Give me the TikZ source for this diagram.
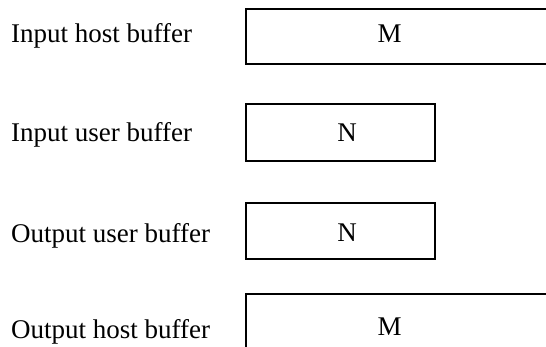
\documentclass[tikz,border=0pt]{standalone}
\usepackage{fontspec}
\setmainfont{Liberation Serif}
\begin{document}
\begin{tikzpicture}[x=1pt,y=-1pt,
  buf/.style={draw=black, line width=2pt},
  lbl/.style={font=\fontsize{27}{32}\selectfont, anchor=base west, inner sep=0pt},
  val/.style={font=\fontsize{27}{32}\selectfont, anchor=base, inner sep=0pt}]
\useasboundingbox (0,0) rectangle (546,347);
\clip (0,0) rectangle (546,347);
% boxes
\draw[buf] (246,9) rectangle (560,64);
\draw[buf] (246,104) rectangle (435,161);
\draw[buf] (246,203) rectangle (435,259);
\draw[buf] (246,294) rectangle (560,370);
% labels
\node[lbl] (l1) at (11,43) {Input host buffer};
\node[lbl] (l2) at (11,142) {Input user buffer};
\node[lbl] (l3) at (11,243) {Output user buffer};
\node[lbl] (l4) at (11,338) {Output host buffer};
% values
\node[val] (v1) at (389.5,43) {M};
\node[val] (v2) at (347,142) {N};
\node[val] (v3) at (347,242) {N};
\node[val] (v4) at (389.5,335) {M};
\end{tikzpicture}
\end{document}
